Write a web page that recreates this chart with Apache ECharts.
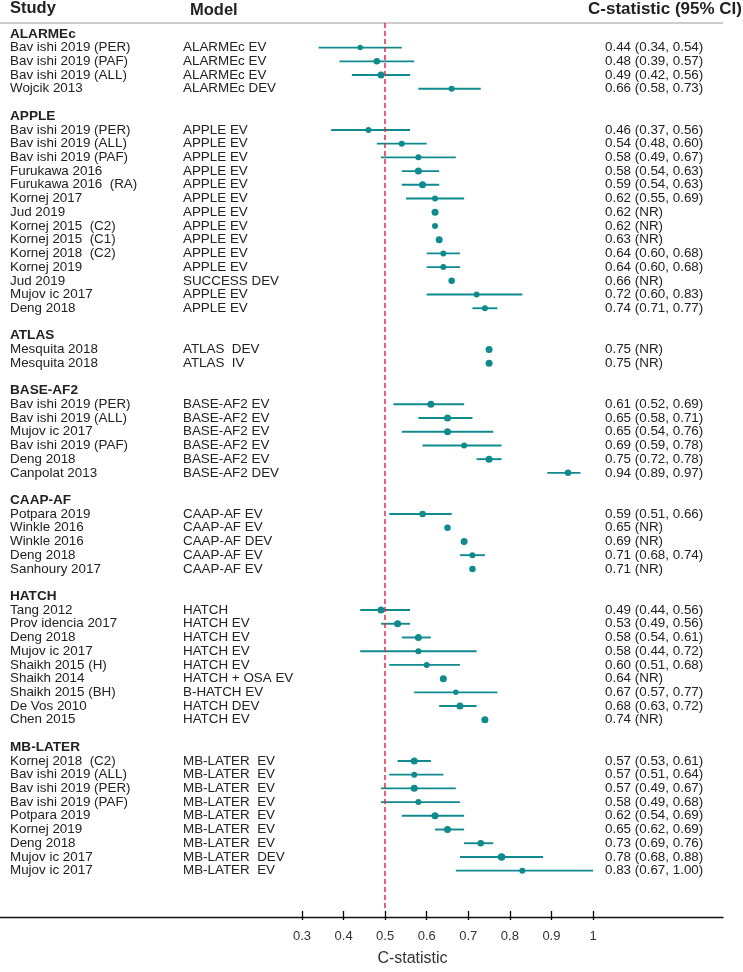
<!DOCTYPE html>
<html><head><meta charset="utf-8">
<script src="https://cdn.jsdelivr.net/npm/echarts@6/dist/echarts.min.js"></script>
<style>html,body{margin:0;padding:0;background:#fff}#c{width:743px;height:972px}</style>
</head><body><div id="c"></div>
<script>
const groupOf = [
 'ALARMEc','ALARMEc','ALARMEc','ALARMEc',
 'APPLE','APPLE','APPLE','APPLE','APPLE','APPLE','APPLE','APPLE','APPLE','APPLE','APPLE','APPLE','APPLE','APPLE',
 'ATLAS','ATLAS',
 'BASE-AF2','BASE-AF2','BASE-AF2','BASE-AF2','BASE-AF2','BASE-AF2',
 'CAAP-AF','CAAP-AF','CAAP-AF','CAAP-AF','CAAP-AF',
 'HATCH','HATCH','HATCH','HATCH','HATCH','HATCH','HATCH','HATCH','HATCH',
 'MB-LATER','MB-LATER','MB-LATER','MB-LATER','MB-LATER','MB-LATER','MB-LATER','MB-LATER','MB-LATER'
];
const studies = [
 'Bav ishi 2019 (PER)','Bav ishi 2019 (PAF)','Bav ishi 2019 (ALL)','Wojcik 2013',
 'Bav ishi 2019 (PER)','Bav ishi 2019 (ALL)','Bav ishi 2019 (PAF)','Furukawa 2016','Furukawa 2016  (RA)','Kornej 2017','Jud 2019','Kornej 2015  (C2)','Kornej 2015  (C1)','Kornej 2018  (C2)','Kornej 2019','Jud 2019','Mujov ic 2017','Deng 2018',
 'Mesquita 2018','Mesquita 2018',
 'Bav ishi 2019 (PER)','Bav ishi 2019 (ALL)','Mujov ic 2017','Bav ishi 2019 (PAF)','Deng 2018','Canpolat 2013',
 'Potpara 2019','Winkle 2016','Winkle 2016','Deng 2018','Sanhoury 2017',
 'Tang 2012','Prov idencia 2017','Deng 2018','Mujov ic 2017','Shaikh 2015 (H)','Shaikh 2014','Shaikh 2015 (BH)','De Vos 2010','Chen 2015',
 'Kornej 2018  (C2)','Bav ishi 2019 (ALL)','Bav ishi 2019 (PER)','Bav ishi 2019 (PAF)','Potpara 2019','Kornej 2019','Deng 2018','Mujov ic 2017','Mujov ic 2017'
];
const models = [
 'ALARMEc EV','ALARMEc EV','ALARMEc EV','ALARMEc DEV',
 'APPLE EV','APPLE EV','APPLE EV','APPLE EV','APPLE EV','APPLE EV','APPLE EV','APPLE EV','APPLE EV','APPLE EV','APPLE EV','SUCCESS DEV','APPLE EV','APPLE EV',
 'ATLAS  DEV','ATLAS  IV',
 'BASE-AF2 EV','BASE-AF2 EV','BASE-AF2 EV','BASE-AF2 EV','BASE-AF2 EV','BASE-AF2 DEV',
 'CAAP-AF EV','CAAP-AF EV','CAAP-AF DEV','CAAP-AF EV','CAAP-AF EV',
 'HATCH','HATCH EV','HATCH EV','HATCH EV','HATCH EV','HATCH + OSA EV','B-HATCH EV','HATCH DEV','HATCH EV',
 'MB-LATER  EV','MB-LATER  EV','MB-LATER  EV','MB-LATER  EV','MB-LATER  EV','MB-LATER  EV','MB-LATER  EV','MB-LATER  DEV','MB-LATER  EV'
];
const estimates = [
 0.44,0.48,0.49,0.66,
 0.46,0.54,0.58,0.58,0.59,0.62,0.62,0.62,0.63,0.64,0.64,0.66,0.72,0.74,
 0.75,0.75,
 0.61,0.65,0.65,0.69,0.75,0.94,
 0.59,0.65,0.69,0.71,0.71,
 0.49,0.53,0.58,0.58,0.60,0.64,0.67,0.68,0.74,
 0.57,0.57,0.57,0.58,0.62,0.65,0.73,0.78,0.83
];
const lower = [
 0.34,0.39,0.42,0.58,
 0.37,0.48,0.49,0.54,0.54,0.55,null,null,null,0.60,0.60,null,0.60,0.71,
 null,null,
 0.52,0.58,0.54,0.59,0.72,0.89,
 0.51,null,null,0.68,null,
 0.44,0.49,0.54,0.44,0.51,null,0.57,0.63,null,
 0.53,0.51,0.49,0.49,0.54,0.62,0.69,0.68,0.67
];
const upper = [
 0.54,0.57,0.56,0.73,
 0.56,0.60,0.67,0.63,0.63,0.69,null,null,null,0.68,0.68,null,0.83,0.77,
 null,null,
 0.69,0.71,0.76,0.78,0.78,0.97,
 0.66,null,null,0.74,null,
 0.56,0.56,0.61,0.72,0.68,null,0.77,0.72,null,
 0.61,0.64,0.67,0.68,0.69,0.69,0.76,0.88,1.00
];
const weights = [
 5.5,6.5,7,6,
 6,6,6,7,7,6,7,6,7,6,6,6.5,6,6,
 7,7,
 7,7,7,6,7,6.5,
 6.5,6.5,7,6,6.5,
 7,7,7,6,6,7,5.5,7,7,
 7,6,7,6,7,7,6.5,7.5,6
];
const tickValues = [0.3,0.4,0.5,0.6,0.7,0.8,0.9,1.0];

// build row layout
const textRows = [];   // [row, studyText, modelText, ciText, isHeader]
const pointData = [];
const ciData = [];
let row = 0, prev = null;
for (let i = 0; i < studies.length; i++) {
  if (groupOf[i] !== prev) {
    if (prev !== null) row++; // blank row
    textRows.push([row, groupOf[i], '', '', 1]);
    row++;
    prev = groupOf[i];
  }
  const ci = lower[i] == null ? '(NR)' : '(' + lower[i].toFixed(2) + ', ' + upper[i].toFixed(2) + ')';
  textRows.push([row, studies[i], models[i], estimates[i].toFixed(2) + ' ' + ci, 0]);
  pointData.push({value: [estimates[i], row], symbolSize: weights[i]});
  if (lower[i] != null) ciData.push([lower[i], upper[i], row]);
  row++;
}

const chart = echarts.init(document.getElementById('c'));
const TEAL = '#0f8a8e';
const FONT = '"Liberation Sans", Arial, sans-serif';
const TXT = '13.4px ' + FONT;
chart.setOption({
  animation: false,
  grid: [
    {left: 302, right: 150, top: 20.19, bottom: 55},
    {left: 0, right: 20, top: 20.19, bottom: 55}
  ],
  xAxis: [
    {gridIndex: 0, type: 'value', position: 'bottom', min: 0.3, max: 1.0, interval: 0.1,
     axisLine: {show: false, onZero: false}, splitLine: {show: false},
     axisTick: {show: true, length: 9, lineStyle: {color: '#000', width: 1.3}},
     axisLabel: {margin: 19, fontSize: 13, color: '#333', fontFamily: FONT,
       formatter: v => { const t = tickValues.find(x => Math.abs(x - v) < 1e-6); return t == null ? '' : (t === 1 ? '1' : String(t)); }},
     name: 'C-statistic', nameLocation: 'middle', nameGap: 48,
     nameTextStyle: {fontSize: 16, color: '#333', fontFamily: FONT, padding: [0, 70, 0, 0], verticalAlign: 'middle'}},
    {gridIndex: 1, type: 'value', position: 'bottom', min: 0, max: 1,
     axisLine: {show: true, onZero: false, lineStyle: {color: '#111', width: 1.3}},
     axisTick: {show: false}, axisLabel: {show: false}, splitLine: {show: false}}
  ],
  yAxis: [
    {gridIndex: 0, type: 'value', inverse: true, min: -1, max: 63.94, show: false},
    {gridIndex: 1, type: 'value', inverse: true, min: -1, max: 63.94, show: false}
  ],
  graphic: [
    {type: 'text', left: 10, top: 0, style: {text: 'Study', font: 'bold 16.5px ' + FONT, fill: '#222'}},
    {type: 'text', left: 190, top: 2, style: {text: 'Model', font: 'bold 16.5px ' + FONT, fill: '#222'}},
    {type: 'text', right: 1, top: 1, style: {text: 'C-statistic (95% CI)', font: 'bold 17px ' + FONT, fill: '#222'}},
    {type: 'line', shape: {x1: 0, y1: 23, x2: 723, y2: 23}, style: {stroke: '#bbb', lineWidth: 1.5}}
  ],
  series: [
    {type: 'custom', xAxisIndex: 0, yAxisIndex: 0, data: ciData, clip: false, silent: true,
     renderItem: (params, api) => {
       const a = api.coord([api.value(0), api.value(2)]);
       const b = api.coord([api.value(1), api.value(2)]);
       return {type: 'line', shape: {x1: a[0], y1: a[1], x2: b[0], y2: b[1]}, style: {stroke: TEAL, lineWidth: 1.9}};
     }},
    {type: 'scatter', xAxisIndex: 0, yAxisIndex: 0, data: pointData, symbol: 'circle',
     itemStyle: {color: TEAL, opacity: 1}, silent: true, z: 3,
     markLine: {symbol: 'none', silent: true, label: {show: false},
       lineStyle: {color: '#dc2f4b', type: [5, 3], width: 1.5},
       data: [[{coord: [0.5, -0.8]}, {coord: [0.5, 63.94]}]]}},
    {type: 'custom', xAxisIndex: 0, yAxisIndex: 0, data: textRows, clip: false, silent: true,
     renderItem: (params, api) => {
       const r = textRows[params.dataIndex];
       const y = api.coord([0.3, r[0]])[1];
       const children = [];
       if (r[4]) {
         children.push({type: 'text', x: 10, y: y, style: {text: r[1], font: 'bold 13.6px ' + FONT, fill: '#222', verticalAlign: 'middle'}});
       } else {
         children.push({type: 'text', x: 10, y: y, style: {text: r[1], font: TXT, fill: '#222', verticalAlign: 'middle'}});
         children.push({type: 'text', x: 183, y: y, style: {text: r[2], font: TXT, fill: '#222', verticalAlign: 'middle'}});
         children.push({type: 'text', x: 605, y: y, style: {text: r[3], font: TXT, fill: '#222', verticalAlign: 'middle'}});
       }
       return {type: 'group', children: children};
     }}
  ]
});
</script></body></html>
